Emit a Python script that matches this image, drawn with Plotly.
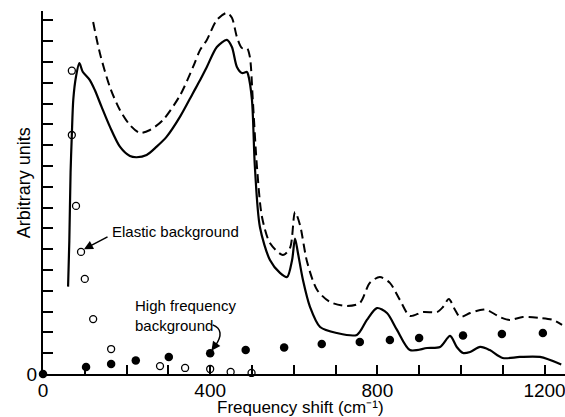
import plotly.graph_objects as go

# ---- data ----
solid_x = [60, 63, 66, 69, 72.5, 79, 87, 95, 112, 124, 140, 160, 184, 208, 224, 248, 272, 296, 328,
           359, 376, 392, 416, 440, 452, 464, 476, 488, 491, 500, 507, 519, 543, 567, 584, 596, 603,
           610, 622, 639, 663, 703, 751, 775, 799, 823, 847, 878, 919, 950, 974, 990, 1005, 1022,
           1046, 1069, 1100, 1141, 1189, 1240]
solid_y = [4.2, 6.4, 9.7, 11.5, 13.2, 14.3, 14.94, 14.53, 14.13, 13.65, 12.85, 11.89, 10.93, 10.48,
           10.42, 10.53, 10.93, 11.41, 12.37, 13.51, 14.13, 14.76, 15.72, 16.06, 15.72, 14.76, 14.47,
           14.52, 14.38, 13.17, 9.95, 7.07, 5.48, 4.86, 4.66, 5.48, 6.51, 5.82, 4.52, 3.22, 2.26, 1.97,
           1.88, 2.6, 3.17, 2.93, 2.12, 1.15, 1.25, 1.3, 1.83, 1.3, 1.01, 1.06, 1.3, 1.15, 0.77, 0.82,
           0.82, 0.46]

dashed_x = [120, 136, 160, 184, 208, 232, 256, 287, 328, 359, 376, 392, 416, 440, 452, 464, 476, 488,
            495, 502, 512, 524, 543, 574, 591, 603, 615, 632, 656, 687, 727, 758, 782, 806, 830, 854,
            878, 909, 943, 957, 971, 986, 998, 1022, 1046, 1062, 1093, 1117, 1148, 1189, 1220, 1242]
dashed_y = [16.92, 15.43, 13.8, 12.69, 11.97, 11.59, 11.73, 12.21, 13.4, 14.76, 15.58, 16.06, 17.02,
            17.36, 17.12, 16.2, 15.67, 15.67, 15.24, 13.17, 9.95, 7.55, 6.3, 5.72, 6.06, 7.79, 7.16,
            5.38, 4.04, 3.46, 3.27, 3.41, 4.38, 4.66, 4.38, 3.56, 2.79, 2.98, 2.98, 3.22, 3.61, 3.08,
            2.74, 2.93, 3.08, 3.08, 2.74, 2.6, 2.74, 2.69, 2.6, 2.36]

elastic_x = [69, 69, 79, 91, 100, 120, 163, 280, 340, 400, 449, 499]
elastic_y = [14.58, 11.49, 8.08, 5.87, 4.57, 2.64, 1.2, 0.38, 0.29, 0.24, 0.1, 0.05]

hf_x = [0, 103, 163, 222, 301, 400, 485, 577, 667, 758, 830, 900, 1005, 1098, 1196]
hf_y = [0, 0.34, 0.48, 0.65, 0.82, 1.0, 1.15, 1.27, 1.44, 1.54, 1.63, 1.73, 1.85, 1.92, 1.97]

x_tickvals = list(range(0, 1201, 100))
x_ticktext = ["0" if v == 0 else (str(v) if v % 400 == 0 else "") for v in x_tickvals]
y_tickvals = list(range(0, 18))
y_ticktext = ["0"] + [""] * 17

FONT = "Liberation Sans"

fig = go.Figure()
fig.add_trace(go.Scatter(x=dashed_x, y=dashed_y, mode="lines",
                         line=dict(color="black", width=2, dash="9px,5px", shape="spline", smoothing=0.8),
                         showlegend=False, hoverinfo="skip"))
fig.add_trace(go.Scatter(x=solid_x, y=solid_y, mode="lines",
                         line=dict(color="black", width=2.2, shape="spline", smoothing=0.8),
                         showlegend=False, hoverinfo="skip"))
fig.add_trace(go.Scatter(x=elastic_x, y=elastic_y, mode="markers", cliponaxis=False,
                         marker=dict(symbol="circle-open", size=7, color="black", line=dict(width=1.3)),
                         showlegend=False))
fig.add_trace(go.Scatter(x=hf_x, y=hf_y, mode="markers", cliponaxis=False,
                         marker=dict(symbol="circle", size=8.5, color="black"),
                         showlegend=False))

# annotations
fig.add_annotation(x=160, y=6.83, xref="x", yref="y", text="Elastic background", showarrow=False,
                   xanchor="left", yanchor="middle", font=dict(family=FONT, size=15, color="black"))
fig.add_annotation(x=98, y=6.0, ax=158, ay=6.63, xref="x", yref="y", axref="x", ayref="y", text="",
                   showarrow=True, arrowhead=2, arrowsize=1.2, arrowwidth=1.5, arrowcolor="black")
fig.add_annotation(x=215, y=2.81, xref="x", yref="y", text="High frequency<br>background",
                   showarrow=False, xanchor="left", yanchor="middle", align="left",
                   font=dict(family=FONT, size=15, color="black"))
fig.add_shape(type="path", xref="x", yref="y",
              path="M 406,2.36 Q 438,2.1 412,1.35",
              line=dict(color="black", width=1.5))
fig.add_annotation(x=403, y=1.12, ax=413, ay=1.4, xref="x", yref="y", axref="x", ayref="y", text="",
                   showarrow=True, arrowhead=2, arrowsize=1.2, arrowwidth=1.5, arrowcolor="black")

# axis titles
fig.add_annotation(x=0.494, y=-0.0935, xref="paper", yref="paper", text="Frequency shift (cm\u207b\u00b9)",
                   showarrow=False, xanchor="center", yanchor="middle",
                   font=dict(family=FONT, size=17, color="black"))
fig.add_annotation(x=-0.036, y=0.526, xref="paper", yref="paper", text="Arbitrary units",
                   showarrow=False, textangle=-90, xanchor="center", yanchor="middle",
                   font=dict(family=FONT, size=18, color="black"))

fig.update_layout(
    width=565, height=417,
    margin=dict(l=43, r=0, t=11, b=43),
    paper_bgcolor="white", plot_bgcolor="white",
    font=dict(family=FONT, color="black"),
    xaxis=dict(range=[0, 1249], showgrid=False, zeroline=False, showline=True, linecolor="black",
               linewidth=2, ticks="inside", ticklen=9, tickwidth=1.5, tickcolor="black",
               tickvals=x_tickvals, ticktext=x_ticktext, tickfont=dict(family=FONT, size=19),
               ticklabeloverflow="allow", ticklabelstandoff=-2, fixedrange=True),
    yaxis=dict(range=[0, 17.45], showgrid=False, zeroline=False, showline=True, linecolor="black",
               linewidth=2, ticks="inside", ticklen=10, tickwidth=1.5, tickcolor="black",
               tickvals=y_tickvals, ticktext=y_ticktext, tickfont=dict(family=FONT, size=19),
               fixedrange=True),
)

fig.write_html("out.html", config={"displayModeBar": False})
